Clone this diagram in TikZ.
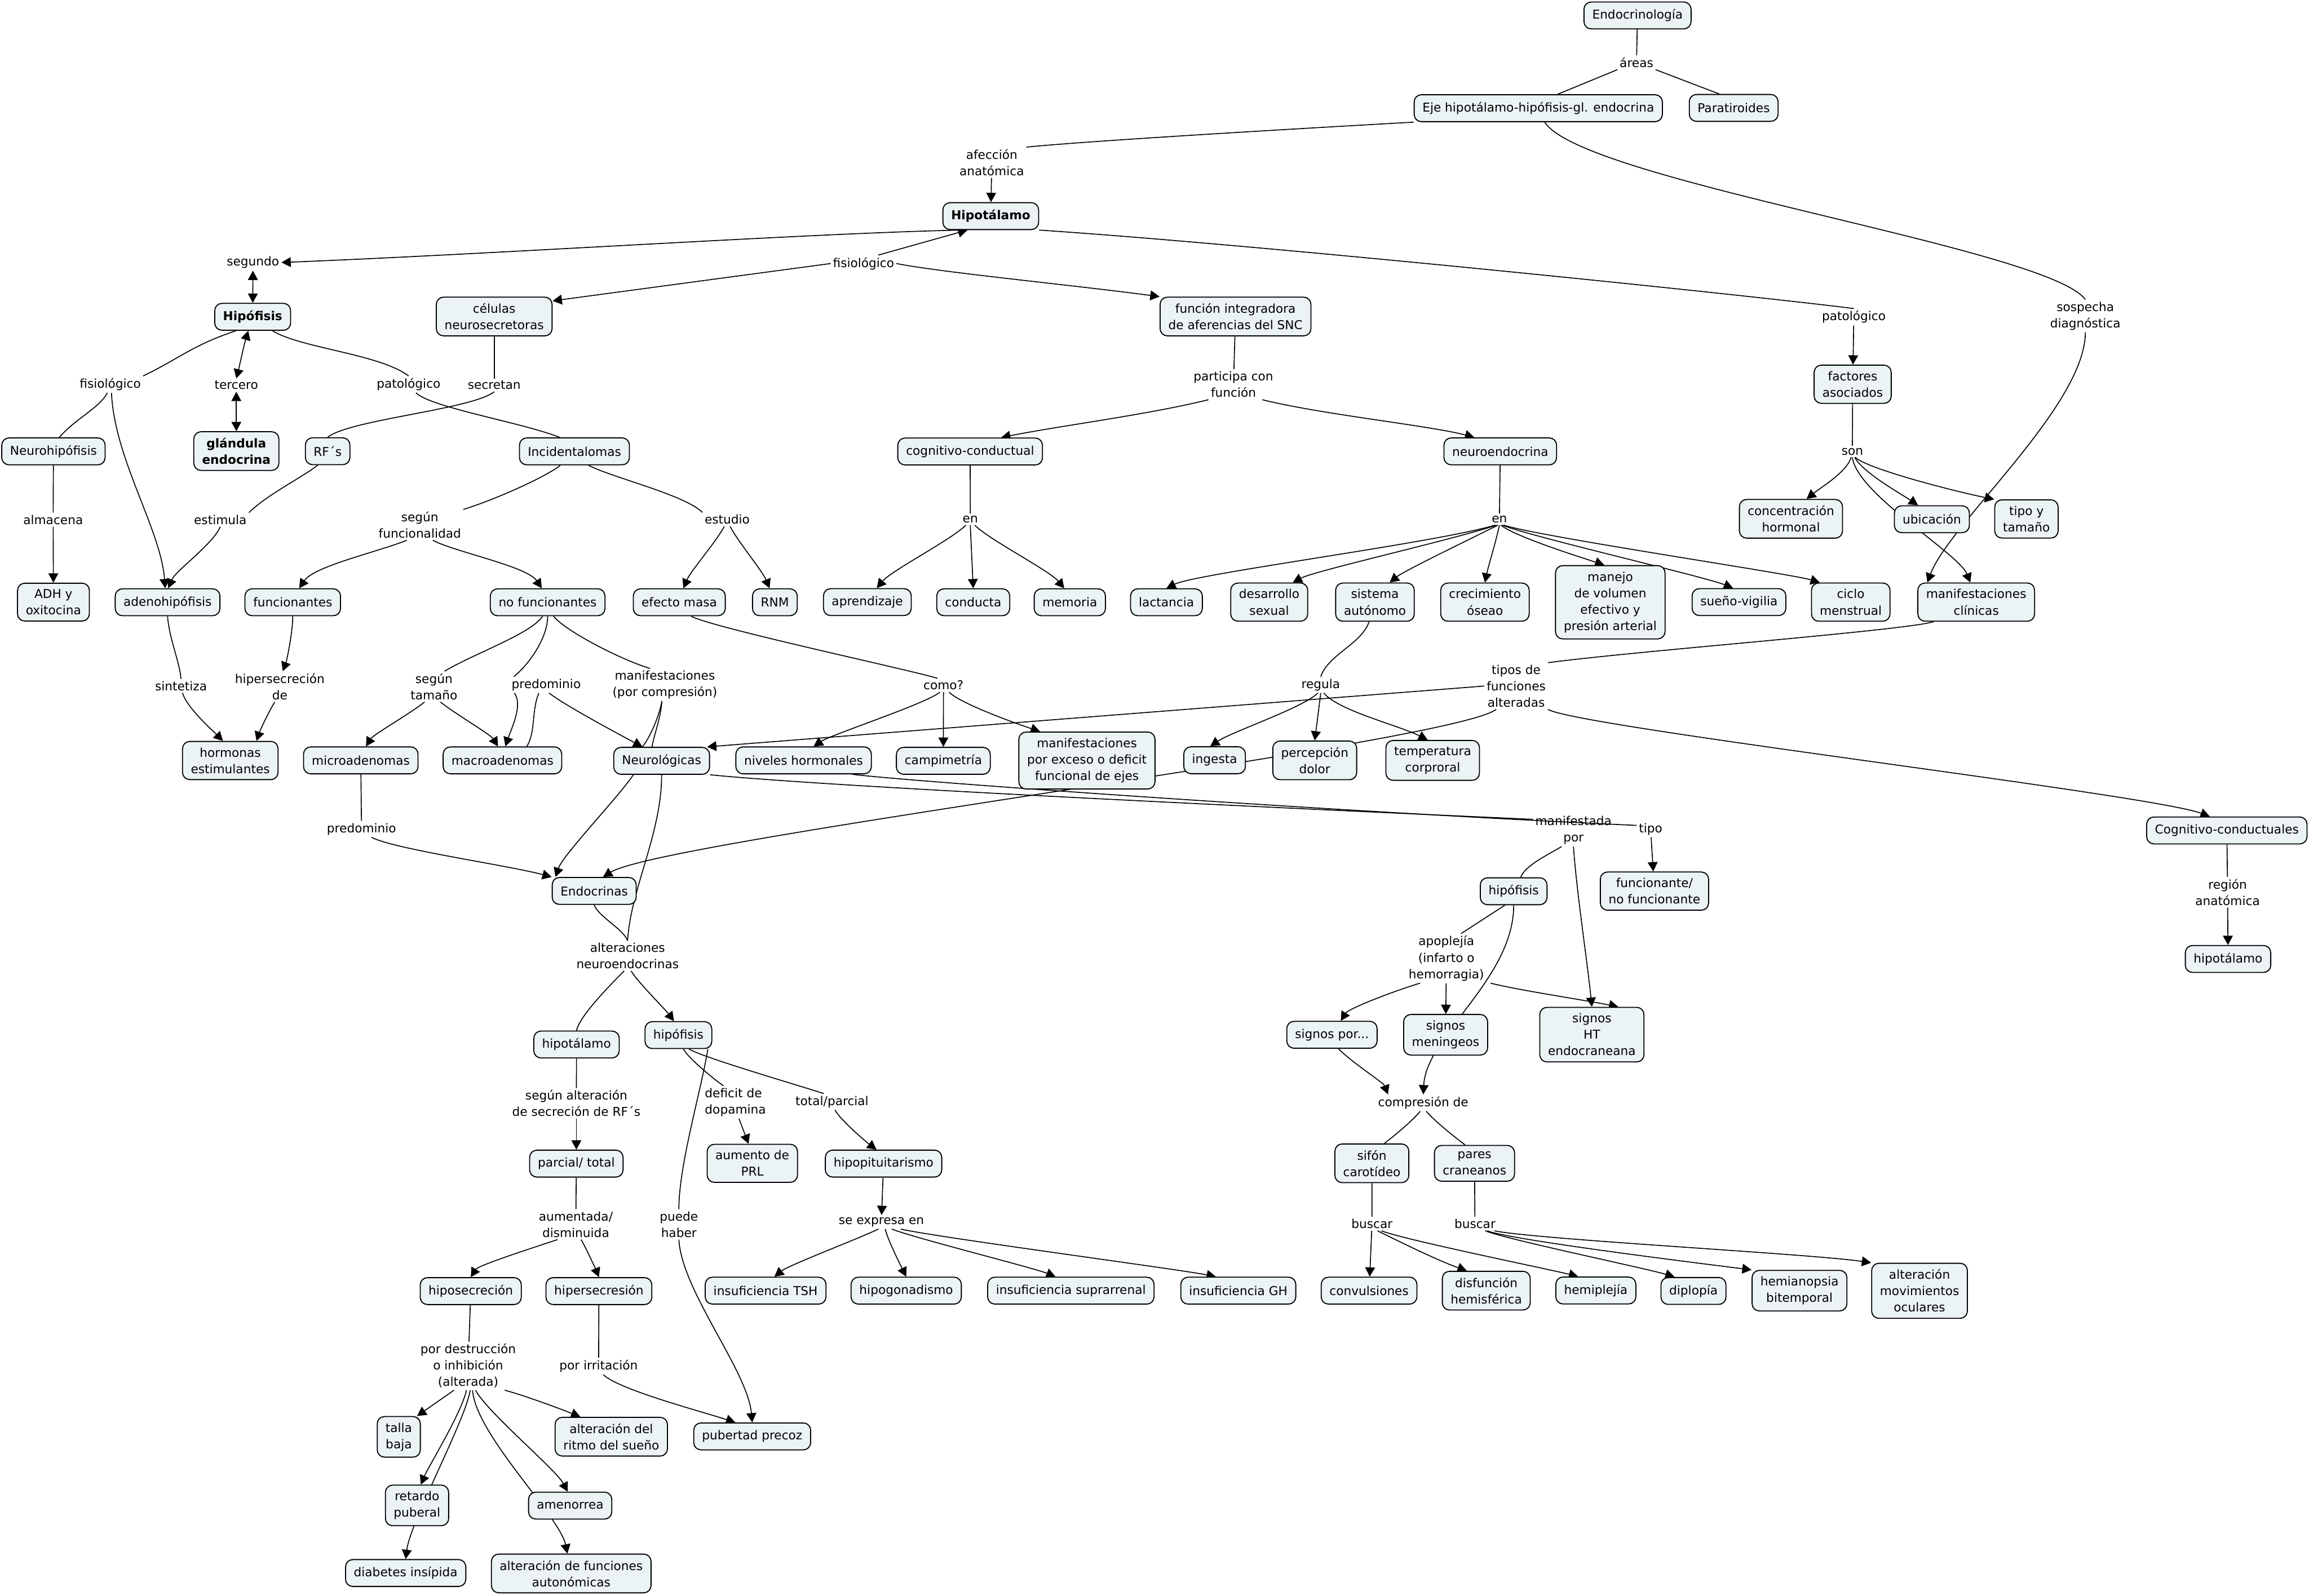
\documentclass[tikz,border=0pt]{standalone}
\usepackage{fontspec}
\setmainfont{DejaVu Sans}
\usetikzlibrary{arrows.meta,backgrounds}
\definecolor{conceptfill}{RGB}{235,243,245}
\tikzset{
  concept/.style={draw=black,fill=conceptfill,rounded corners=7pt,line width=1pt,
                  font=\fontsize{11.8}{15.8}\selectfont,align=center,
                  inner xsep=8pt,inner ysep=6pt,minimum height=26pt},
  conceptb/.style={concept,font=\fontsize{11.8}{15.8}\selectfont\bfseries},
  linkw/.style={font=\fontsize{11.8}{15.8}\selectfont,align=center,inner sep=2pt},
  ln/.style={line width=0.9pt},
  arr/.style={-{Triangle[length=9pt,width=9.5pt]},line width=0.9pt},
  barr/.style={{Triangle[length=9pt,width=9.5pt]}-{Triangle[length=9pt,width=9.5pt]},line width=0.9pt},
}
\begin{document}
\begin{tikzpicture}[x=0.05cm,y=-0.05cm]
\useasboundingbox (0,0) rectangle (1568,1084);

% top levels
\node[concept] (endo) at (1112,10.5) {Endocrinología};
\node[linkw] (areas) at (1111.3,42.4) {áreas};
\node[concept] (eje) at (1044.6,73.5) {Eje hipotálamo-hipófisis-gl. endocrina};
\node[concept] (parat) at (1177.3,73.3) {Paratiroides};
\node[linkw] (afeccion) at (673.5,110.4) {afección\\anatómica};
\node[conceptb] (hipotal) at (672.8,146.8) {Hipotálamo};
\node[linkw] (segundo) at (171.8,178.3) {segundo};
\node[linkw] (fisioM) at (586.4,179) {fisiológico};
\node[conceptb] (hipof) at (171.6,215.2) {Hipófisis};
\node[concept] (celulas) at (335.6,215) {células\\neurosecretoras};
\node[concept] (funcint) at (839,215) {función integradora\\de aferencias del SNC};
\node[linkw] (patolR) at (1258.9,215.3) {patológico};
\node[linkw] (sospecha) at (1416.1,214.6) {sospecha\\diagnóstica};
\node[linkw] (fisioL) at (74.9,261.1) {fisiológico};
\node[linkw] (tercero) at (160.5,261.6) {tercero};
\node[linkw] (patolL) at (277.5,261.1) {patológico};
\node[linkw] (secretan) at (335.6,261.6) {secretan};
\node[linkw] (participa) at (837.6,261.2) {participa con\\función};
\node[concept] (factores) at (1258.1,261) {factores\\asociados};
\node[concept] (neurohip) at (36.3,306.6) {Neurohipófisis};
\node[conceptb] (glandula) at (160.5,306.4) {glándula\\endocrina};
\node[concept] (rfs) at (222.5,306.5) {RF´s};
\node[concept] (incid) at (390.1,306.6) {Incidentalomas};
\node[concept] (cogcond) at (658.8,306.7) {cognitivo-conductual};
\node[concept] (neuroend) at (1018.8,306.6) {neuroendocrina};
\node[linkw] (son) at (1257.9,306.7) {son};
\node[concept] (conchorm) at (1216.2,352.4) {concentración\\hormonal};
\node[concept] (ubic) at (1311.9,352.7) {ubicación};
\node[concept] (tipotam) at (1376.1,352.5) {tipo y\\tamaño};
\node[linkw] (almacena) at (36.1,353) {almacena};
\node[linkw] (estimula) at (149.6,353) {estimula};
\node[linkw] (segfunc) at (285.1,356.5) {según\\funcionalidad};
\node[linkw] (estudio) at (493.8,352.8) {estudio};
\node[linkw] (enL) at (658.9,352.8) {en};
\node[linkw] (enR) at (1018.2,352.8) {en};

% row of concepts
\node[concept] (adh) at (36.3,409) {ADH y\\oxitocina};
\node[concept] (adenohip) at (113.8,409.1) {adenohipófisis};
\node[concept] (funcion) at (198.8,409.1) {funcionantes};
\node[concept] (nofunc) at (371.9,409.1) {no funcionantes};
\node[concept] (efmasa) at (461.3,409.1) {efecto masa};
\node[concept] (rnm) at (526.2,409.1) {RNM};
\node[concept] (aprend) at (589,409) {aprendizaje};
\node[concept] (conducta) at (660.9,409.1) {conducta};
\node[concept] (memoria) at (726.5,409.1) {memoria};
\node[concept] (lact) at (792.1,409.1) {lactancia};
\node[concept] (dessex) at (861.9,409) {desarrollo\\sexual};
\node[concept] (sisaut) at (933.7,409) {sistema\\autónomo};
\node[concept] (crecim) at (1008.4,409) {crecimiento\\óseao};
\node[concept] (manejo) at (1093.5,409.1) {manejo\\de volumen\\efectivo y\\presión arterial};
\node[concept] (suenov) at (1180.9,409) {sueño-vigilia};
\node[concept] (ciclo) at (1256.8,409) {ciclo\\menstrual};
\node[concept] (manifcl) at (1342,409) {manifestaciones\\clínicas};

\node[linkw] (sintetiza) at (122.9,465.9) {sintetiza};
\node[linkw] (hipersde) at (190,466.4) {hipersecreción\\de};
\node[linkw] (segtam) at (294.7,466.4) {según\\tamaño};
\node[linkw] (predom) at (370.9,465.2) {predominio};
\node[linkw] (manifcomp) at (451.5,465.2) {manifestaciones\\(por compresión)};
\node[linkw] (como) at (640.7,465.5) {como?};
\node[linkw] (regula) at (896.9,465.2) {regula};
\node[linkw] (tipos) at (1029.6,466) {tipos de\\funciones\\alteradas};

\node[concept] (hormest) at (156.4,516.6) {hormonas\\estimulantes};
\node[concept] (microad) at (245,516.5) {microadenomas};
\node[concept] (macroad) at (341.2,516.5) {macroadenomas};
\node[concept] (neurol) at (449.3,516.8) {Neurológicas};
\node[concept] (nivhorm) at (545.7,516.5) {niveles hormonales};
\node[concept] (campim) at (640.6,516.8) {campimetría};
\node[concept] (manifexc) at (738.1,516.6) {manifestaciones\\por exceso o deficit\\funcional de ejes};
\node[concept] (ingesta) at (824.8,516.4) {ingesta};
\node[concept] (percep) at (892.8,516.5) {percepción\\dolor};
\node[concept] (temp) at (972.9,516.5) {temperatura\\corproral};

\node[linkw] (predomB) at (245.5,563.2) {predominio};
\node[linkw] (manifpor) at (1068.5,563.9) {manifestada\\por};
\node[linkw] (tipo) at (1120.9,563.2) {tipo};
\node[concept] (cogcondII) at (1512.2,564.1) {Cognitivo-conductuales};
\node[concept] (endocr) at (403.5,605.2) {Endocrinas};
\node[concept] (hipofR) at (1027.9,605.4) {hipófisis};
\node[concept] (funcnofunc) at (1123.5,605.3) {funcionante/\\no funcionante};
\node[linkw] (region) at (1512.7,606) {región\\anatómica};
\node[linkw] (alteraciones) at (426.2,649.3) {alteraciones\\neuroendocrinas};
\node[linkw] (apopl) at (982.2,651) {apoplejía\\(infarto o\\hemorragia)};
\node[concept] (hipotalR) at (1513,651.4) {hipotálamo};

\node[concept] (hipotalM) at (391.5,709.5) {hipotálamo};
\node[concept] (hipofM) at (460.7,703.1) {hipófisis};
\node[concept] (signpor) at (904.5,702.9) {signos por...};
\node[concept] (signmen) at (981.7,702.9) {signos\\meningeos};
\node[concept] (signht) at (1081,702.8) {signos\\HT\\endocraneana};

\node[linkw] (segalt) at (391.4,749.5) {según alteración\\de secreción de RF´s};
\node[linkw,align=left] (deficit) at (499.4,748.7) {deficit de\\dopamina};
\node[linkw] (totpar) at (565,748.4) {total/parcial};
\node[linkw] (compres) at (966.5,749.1) {compresión de};
\node[concept] (parcial) at (391.4,790.4) {parcial/ total};
\node[concept] (aumprl) at (510.9,790.2) {aumento de\\PRL};
\node[concept] (hipopit) at (600,790.4) {hipopituitarismo};
\node[concept] (sifon) at (931.6,790.2) {sifón\\carotídeo};
\node[concept] (pares) at (1001.3,790.2) {pares\\craneanos};
\node[linkw] (aumdis) at (391,831.7) {aumentada/\\disminuida};
\node[linkw] (puede) at (461,831.7) {puede\\haber};
\node[linkw] (seexp) at (598.5,830.1) {se expresa en};
\node[linkw] (buscarA) at (931.7,831.3) {buscar};
\node[linkw] (buscarB) at (1001.6,831.3) {buscar};

\node[concept] (hiposec) at (319.7,877) {hiposecreción};
\node[concept] (hipersec) at (406.7,877) {hipersecresión};
\node[concept] (insTSH) at (519.9,876.7) {insuficiencia TSH};
\node[concept] (hipogon) at (615.4,876.7) {hipogonadismo};
\node[concept] (insSupra) at (727.2,876.7) {insuficiencia suprarrenal};
\node[concept] (insGH) at (840.9,876.7) {insuficiencia GH};
\node[concept] (convul) at (929.7,876.7) {convulsiones};
\node[concept] (disfun) at (1009.3,876.7) {disfunción\\hemisférica};
\node[concept] (hemipl) at (1083.7,876.6) {hemiplejía};
\node[concept] (diplop) at (1150,876.9) {diplopía};
\node[concept] (hemian) at (1222,876.7) {hemianopsia\\bitemporal};
\node[concept] (altmov) at (1303.5,876.8) {alteración\\movimientos\\oculares};

\node[linkw] (pordest) at (317.9,927.8) {por destrucción\\o inhibición\\(alterada)};
\node[linkw] (porirr) at (406.5,928) {por irritación};
\node[concept] (talla) at (270.8,976) {talla\\baja};
\node[concept] (altritmo) at (415.1,975.9) {alteración del\\ritmo del sueño};
\node[concept] (pubprec) at (510.8,975.7) {pubertad precoz};
\node[concept] (retardo) at (283.2,1022.6) {retardo\\puberal};
\node[concept] (amenor) at (387.2,1022.7) {amenorrea};
\node[concept] (diabins) at (275.5,1068.5) {diabetes insípida};
\node[concept] (altfunc) at (387.9,1068.8) {alteración de funciones\\autonómicas};

\begin{pgfonlayer}{background}
% top
\draw[ln] (endo) -- (areas);
\draw[ln] (areas.south west) -- ([xshift=6.6mm]eje.north);
\draw[ln] (areas.south east) -- ([xshift=-4.9mm]parat.north);
\draw[ln] (eje.south west) .. controls +(-90,5) and +(40,-4) .. (afeccion.north east);
\draw[arr] (afeccion) -- (hipotal);
\draw[ln] ([xshift=2.2mm]eje.south) .. controls +(25,40) and +(-25,-35) .. (sospecha.north);
\draw[ln] (hipotal.south east) .. controls +(150,10) and +(-80,-10) .. (patolR.north);
\draw[arr] ([xshift=6.5mm]hipotal.south west) .. controls +(-100,2) and +(150,-6) .. (segundo.east);
\draw[arr] ([xshift=5mm]fisioM.north) -- ([xshift=8.5mm]hipotal.south west);
\draw[arr] (fisioM.west) -- (celulas.15);
\draw[arr] (fisioM.east) .. controls +(30,6) and +(-60,-8) .. (funcint.north west);
% hipofisis
\draw[barr] (segundo) -- (hipof);
\draw[ln] ([xshift=-5.7mm]hipof.south) .. controls +(-30,10) and +(25,-12) .. (fisioL.north east);
\draw[barr] ([xshift=-1.5mm]hipof.south) .. controls +(-3,10) and +(2,-8) .. (tercero.north);
\draw[barr] (tercero) -- (glandula);
\draw[ln] ([xshift=6.7mm]hipof.south) .. controls +(20,12) and +(-20,-15) .. (patolL.north);
\draw[ln] ([xshift=2.5mm]patolL.south) .. controls +(10,10) and +(-25,-10) .. ([xshift=-5mm]incid.north);
\draw[ln] (celulas) -- (secretan);
\draw[ln] (secretan.south) .. controls +(-15,12) and +(15,-12) .. (rfs.north);
\draw[ln] ([xshift=-1mm]fisioL.south) .. controls +(-5,10) and +(10,-12) .. ([xshift=2mm]neurohip.north);
\draw[arr] ([xshift=0.4mm]fisioL.south) .. controls +(2,45) and +(-3,-40) .. ([xshift=-0.8mm]adenohip.north);
\draw[ln] (neurohip) -- (almacena);
\draw[arr] (almacena) -- (adh);
\draw[ln] ([xshift=-3.4mm]rfs.south) .. controls +(-10,8) and +(12,-12) .. (estimula.north east);
\draw[arr] (estimula.south) .. controls +(-5,12) and +(5,-12) .. ([xshift=0.2mm]adenohip.north);
\draw[ln] (adenohip.south) .. controls +(1,15) and +(-1,-12) .. (sintetiza.north);
\draw[arr] ([xshift=0.5mm]sintetiza.south) .. controls +(3,10) and +(-8,-8) .. ([xshift=-2.5mm]hormest.north);
% incidentalomas
\draw[ln] ([xshift=-4.8mm]incid.south) .. controls +(-10,8) and +(20,-6) .. (segfunc.north east);
\draw[arr] ([xshift=-4.4mm]segfunc.south) .. controls +(-20,8) and +(10,-15) .. ([xshift=2.2mm]funcion.north);
\draw[arr] ([xshift=4.4mm]segfunc.south) .. controls +(15,8) and +(-10,-15) .. ([xshift=-2mm]nofunc.north);
\draw[arr] (funcion.south) .. controls +(0,10) and +(3,-8) .. ([xshift=1mm]hipersde.north);
\draw[arr] ([xshift=-1.7mm]hipersde.south) .. controls +(-5,8) and +(2,-6) .. ([xshift=8.9mm]hormest.north);
\draw[ln] ([xshift=-1.7mm]nofunc.south) .. controls +(-8,12) and +(20,-12) .. ([xshift=3.6mm]segtam.north);
\draw[arr] ([xshift=-3.2mm]segtam.south) .. controls +(-10,8) and +(5,-8) .. ([xshift=1.75mm]microad.north);
\draw[arr] ([xshift=2.2mm]segtam.south) .. controls +(10,8) and +(-5,-8) .. ([xshift=-1.5mm]macroad.north);
\draw[ln] (nofunc.south) .. controls +(0,15) and +(10,-8) .. ([xshift=-11mm]predom.north);
\draw[arr] ([xshift=-10.8mm]predom.south) .. controls +(6,8) and +(4,-12) .. ([xshift=1mm]macroad.north);
\draw[ln] ([xshift=-2.5mm]predom.south) .. controls +(-5,12) and +(6,-10) .. ([xshift=8.3mm]macroad.north);
\draw[arr] ([xshift=1mm]predom.south) .. controls +(10,8) and +(-15,-8) .. ([xshift=-6.5mm]neurol.north);
\draw[ln] ([xshift=2mm]nofunc.south) .. controls +(8,10) and +(-20,-6) .. ([xshift=-5mm]manifcomp.north);
\draw[ln] ([xshift=-1mm]manifcomp.south) .. controls +(-2,10) and +(6,-8) .. ([xshift=-6.5mm]neurol.north);
\draw[ln] ([xshift=-1mm]manifcomp.south) .. controls +(-1,12) and +(2,-10) .. ([xshift=-3.3mm]neurol.north);
\draw[ln] (neurol.south) .. controls +(0,40) and +(2,-35) .. (alteraciones.north);
\draw[arr] ([xshift=-9.6mm]neurol.south) .. controls +(-10,15) and +(5,-15) .. ([xshift=1.3mm]endocr.north west);
\draw[ln] (endocr.south) .. controls +(3,8) and +(-3,-8) .. (alteraciones.north);
\draw[ln] (microad) -- (predomB);
\draw[arr] ([xshift=3.4mm]predomB.south) .. controls +(15,8) and +(-30,-8) .. (endocr.north west);
\draw[ln] ([xshift=4.8mm]incid.south) .. controls +(15,8) and +(-12,-12) .. (estudio.north west);
\draw[arr] ([xshift=-1mm]estudio.south) .. controls +(-5,10) and +(5,-12) .. ([xshift=1.4mm]efmasa.north);
\draw[arr] ([xshift=1mm]estudio.south) .. controls +(5,10) and +(-5,-12) .. ([xshift=-1.8mm]rnm.north);
\draw[ln] ([xshift=4mm]efmasa.south) .. controls +(15,8) and +(-15,-5) .. ([xshift=-2mm]como.north);
\draw[arr] ([xshift=-1.2mm]como.south) .. controls +(-10,8) and +(12,-8) .. ([xshift=3.4mm]nivhorm.north);
\draw[arr] (como.south) -- (campim.north);
\draw[arr] ([xshift=1.9mm]como.south) .. controls +(8,8) and +(-15,-5) .. ([xshift=-15.9mm]manifexc.north);
% funcion integradora
\draw[ln] (funcint) -- (participa);
\draw[arr] ([xshift=-8.5mm]participa.south) .. controls +(-40,10) and +(40,-8) .. ([xshift=10.5mm]cogcond.north);
\draw[arr] ([xshift=9.8mm]participa.south) .. controls +(40,10) and +(-30,-8) .. ([xshift=-8.8mm]neuroend.north);
\draw[ln] (cogcond) -- (enL);
\draw[arr] ([xshift=-1.5mm]enL.south) .. controls +(-10,10) and +(10,-12) .. ([xshift=3.2mm]aprend.north);
\draw[arr] (enL.south) -- (conducta.north);
\draw[arr] ([xshift=1.5mm]enL.south) .. controls +(10,10) and +(-10,-12) .. ([xshift=-1.9mm]memoria.north);
\draw[ln] (neuroend) -- (enR);
\draw[arr] ([xshift=-1.5mm]enR.south) .. controls +(-40,12) and +(20,-10) .. (lact.north);
\draw[arr] ([xshift=-1mm]enR.south) .. controls +(-30,10) and +(15,-8) .. ([xshift=8mm]dessex.north);
\draw[arr] ([xshift=-0.5mm]enR.south) .. controls +(-20,10) and +(10,-8) .. ([xshift=5mm]sisaut.north);
\draw[arr] (enR.south) .. controls +(-2,10) and +(2,-10) .. (crecim.north);
\draw[arr] ([xshift=0.5mm]enR.south) .. controls +(10,8) and +(-15,-5) .. ([xshift=-2mm]manejo.north);
\draw[arr] ([xshift=1mm]enR.south) .. controls +(20,8) and +(-20,-8) .. ([xshift=-2mm]suenov.north);
\draw[arr] ([xshift=1.5mm]enR.south) .. controls +(25,8) and +(-20,-6) .. ([xshift=3mm]ciclo.north west);
\draw[ln] ([xshift=-2mm]sisaut.south) .. controls +(-5,15) and +(5,-15) .. (regula.north);
\draw[arr] ([xshift=-1mm]regula.south) .. controls +(-10,10) and +(15,-10) .. ([xshift=-1.5mm]ingesta.north);
\draw[arr] (regula.south) -- (percep.north);
\draw[arr] ([xshift=1mm]regula.south) .. controls +(10,12) and +(-20,-10) .. ([xshift=-1.7mm]temp.north);
% patologico
\draw[arr] (patolR) -- (factores);
\draw[ln] (factores) -- (son);
\draw[arr] ([xshift=-0.4mm]son.south) .. controls +(-3,10) and +(10,-8) .. ([xshift=5.3mm]conchorm.north);
\draw[arr] ([xshift=0.8mm]son.south) .. controls +(5,10) and +(-12,-8) .. ([xshift=-4.7mm]ubic.north);
\draw[arr] ([xshift=1mm]son.south) .. controls +(8,8) and +(-25,-5) .. (tipotam.north west);
\draw[arr] (son.south) .. controls +(3,25) and +(-8,-20) .. ([xshift=-2mm]manifcl.north);
\draw[arr] (sospecha.south) .. controls +(0,50) and +(15,-40) .. ([xshift=-16.6mm]manifcl.north);
\draw[ln] ([xshift=-14.5mm]manifcl.south) .. controls +(-20,6) and +(60,-8) .. (tipos.north east);
\draw[arr] (tipos.south east) .. controls +(20,12) and +(-40,-15) .. ([xshift=-5.8mm]cogcondII.north);
\draw[arr] (tipos.west) -- ([xshift=-1mm]neurol.north east);
\draw[arr] ([xshift=4mm]tipos.south west) .. controls +(-30,23) and +(40,-25) .. ([xshift=3mm]endocr.north);
\draw[ln] (cogcondII) -- (region);
\draw[arr] (region) -- (hipotalR);
\draw[ln] (neurol.south east) .. controls +(80,8) and +(-200,-9) .. (manifpor.165);
\draw[ln] ([xshift=16.6mm]nivhorm.south) .. controls +(40,5) and +(-200,-9) .. (tipo.165);
\draw[arr] (tipo) -- (funcnofunc);
\draw[ln] ([xshift=-4mm]manifpor.south) .. controls +(-10,6) and +(3,-8) .. ([xshift=2.4mm]hipofR.north);
\draw[arr] (manifpor.south) .. controls +(2,30) and +(-3,-30) .. (signht.north);
\draw[ln] ([xshift=-3mm]hipofR.south) -- ([xshift=5mm]apopl.north);
\draw[arr] (hipofR.south) .. controls +(0,50) and +(2,-40) .. (compres.north);
\draw[arr] ([xshift=-8.9mm]apopl.south) .. controls +(-20,6) and +(5,-8) .. ([xshift=3mm]signpor.north);
\draw[arr] (apopl) -- (signmen);
\draw[arr] ([xshift=15mm]apopl.south) .. controls +(20,5) and +(-25,-5) .. ([xshift=9mm]signht.north);
\draw[arr] ([xshift=2.2mm]signpor.south) .. controls +(10,10) and +(-3,-8) .. ([xshift=-12mm]compres.north);
\draw[ln] ([xshift=-1mm]compres.south) .. controls +(-5,6) and +(8,-6) .. ([xshift=4.2mm]sifon.north);
\draw[ln] ([xshift=1mm]compres.south) .. controls +(5,6) and +(-8,-6) .. ([xshift=-3.2mm]pares.north);
\draw[ln] (sifon) -- (buscarA);
\draw[ln] (pares) -- (buscarB);
\draw[arr] (buscarA) -- (convul);
\draw[arr] ([xshift=1.9mm]buscarA.south) .. controls +(10,5) and +(-20,-7) .. ([xshift=-6.6mm]disfun.north);
\draw[arr] ([xshift=3.2mm]buscarA.south) .. controls +(15,6) and +(-20,-5) .. ([xshift=-6mm]hemipl.north);
\draw[arr] ([xshift=3.5mm]buscarB.south) .. controls +(15,6) and +(-20,-6) .. ([xshift=-6.4mm]diplop.north);
\draw[arr] ([xshift=4.2mm]buscarB.south) .. controls +(15,6) and +(-40,-5) .. (hemian.north west);
\draw[arr] ([xshift=6.6mm]buscarB.south) .. controls +(30,6) and +(-40,-6) .. (altmov.north west);
% alteraciones neuroendocrinas
\draw[ln] ([xshift=-1.2mm]alteraciones.south) .. controls +(-8,8) and +(2,-10) .. (hipotalM.north);
\draw[arr] ([xshift=1.2mm]alteraciones.south) .. controls +(5,8) and +(-6,-8) .. ([xshift=-1.5mm]hipofM.north);
\draw[ln] (hipotalM) -- (segalt);
\draw[arr] (segalt) -- (parcial);
\draw[ln] (parcial) -- (aumdis);
\draw[arr] ([xshift=-6.2mm]aumdis.south) .. controls +(-15,5) and +(5,-8) .. (hiposec.north);
\draw[arr] ([xshift=1.8mm]aumdis.south) .. controls +(3,5) and +(-2,-5) .. (hipersec.north);
\draw[ln] (hiposec) -- (pordest);
\draw[ln] (hipersec) -- (porirr);
\draw[arr] ([xshift=1.6mm]porirr.south) .. controls +(10,10) and +(-25,-8) .. ([xshift=-5.7mm]pubprec.north);
\draw[ln] ([xshift=-1.5mm]hipofM.south east) .. controls +(-5,30) and +(0,-30) .. (puede.north);
\draw[arr] (puede.south) .. controls +(2,35) and +(-3,-35) .. (pubprec.north);
\draw[ln] ([xshift=1.7mm]hipofM.south) .. controls +(3,6) and +(-6,-4) .. ([xshift=-4mm]deficit.north);
\draw[arr] ([xshift=1.2mm]deficit.south) -- ([xshift=-1.3mm]aumprl.north);
\draw[ln] ([xshift=3.6mm]hipofM.south) .. controls +(10,6) and +(-15,-5) .. ([xshift=-2.8mm]totpar.north);
\draw[arr] ([xshift=1mm]totpar.south) .. controls +(3,6) and +(-8,-6) .. ([xshift=-2.4mm]hipopit.north);
\draw[arr] (hipopit) -- (seexp);
\draw[arr] ([xshift=-1mm]seexp.south) .. controls +(-12,6) and +(10,-8) .. ([xshift=3mm]insTSH.north);
\draw[arr] ([xshift=1.3mm]seexp.south) .. controls +(2,8) and +(-3,-6) .. (hipogon.north);
\draw[arr] ([xshift=3.5mm]seexp.south) .. controls +(15,6) and +(-15,-6) .. ([xshift=-5.2mm]insSupra.north);
\draw[arr] ([xshift=6.6mm]seexp.south) .. controls +(20,5) and +(-25,-5) .. ([xshift=-7.6mm]insGH.north);
\draw[arr] ([xshift=-4.8mm]pordest.south) -- ([xshift=6.2mm]talla.north);
\draw[arr] ([xshift=12.4mm]pordest.south) .. controls +(15,4) and +(-10,-4) .. ([xshift=-10.5mm]altritmo.north);
\draw[arr] ([xshift=-0.6mm]pordest.south) .. controls +(-3,15) and +(5,-12) .. ([xshift=1.3mm]retardo.north);
\draw[arr] ([xshift=0.7mm]pordest.south) .. controls +(-3,20) and +(3,-25) .. (diabins.north);
\draw[arr] ([xshift=2.5mm]pordest.south) .. controls +(8,15) and +(-8,-15) .. ([xshift=-0.85mm]amenor.north);
\draw[arr] ([xshift=1.5mm]pordest.south) .. controls +(2,30) and +(-5,-25) .. ([xshift=-1.3mm]altfunc.north);
\end{pgfonlayer}
\end{tikzpicture}
\end{document}
